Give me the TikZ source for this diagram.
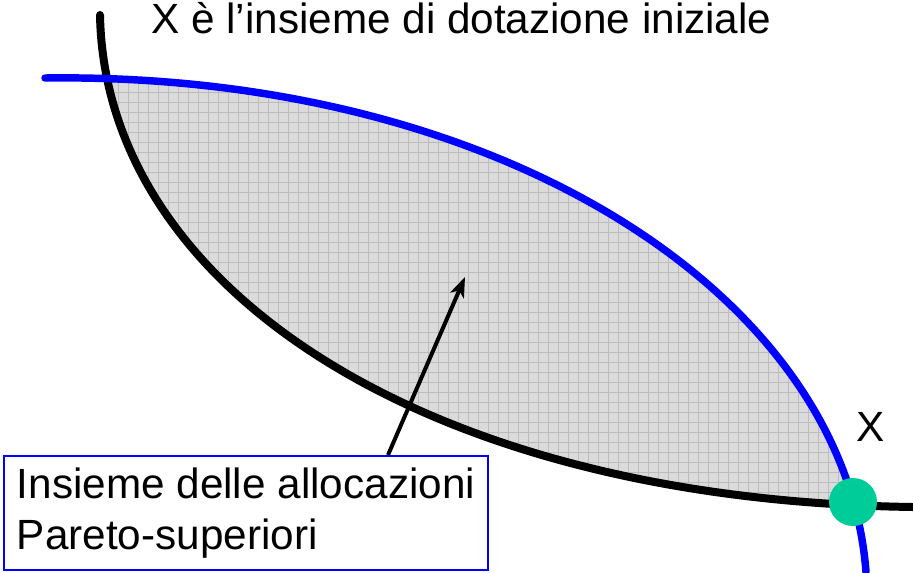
\documentclass[tikz,border=0pt]{standalone}
\usepackage{fontspec}
\setmainfont{Liberation Sans}
\usetikzlibrary{arrows.meta}
\begin{document}
\begin{tikzpicture}[x=0.75pt,y=-0.75pt]
\colorlet{frontier}{blue}
\definecolor{endowgreen}{RGB}{0,204,153}
\definecolor{setgray}{RGB}{219,219,219}
\definecolor{gridgray}{RGB}{188,188,188}
\tikzset{curve/.style={line width=5.6pt,line cap=round},
         lbl/.style={inner sep=0pt,font=\fontsize{31.7}{38.3}\selectfont},
         pointer/.style={line width=3pt,-{Stealth[length=15pt,width=11pt,inset=4pt]}}}
\useasboundingbox (0,0) rectangle (913,572);

% the shaded lens between the two curves
\begin{scope}
\clip (100,15) .. controls (105,285) and (420,500) .. (913,507) -- (913,0) -- (100,0) -- cycle;
\clip (45,78) .. controls (500,72) and (845,295) .. (866,572) -- (45,572) -- cycle;
\fill[setgray] (100,70) rectangle (870,515);
\foreach \x in {98,108,...,868} \draw[gridgray,line width=0.55pt] (\x,70) -- (\x,515);
\foreach \y in {72,82,...,512} \draw[gridgray,line width=0.55pt] (100,\y) -- (870,\y);
\end{scope}

% the two curves through the endowment
\draw[curve,black,line width=6pt] (100,15) .. controls (105,285) and (420,500) .. (913,507);
\draw[curve,frontier] (45,78) .. controls (500,72) and (845,295) .. (866,572);

\node[circle,fill=endowgreen,minimum size=36pt,inner sep=0pt] (endow) at (853,502) {};
\node[lbl,anchor=base west] (xlab) at (856,441) {X};
\node[lbl,anchor=base west] (title) at (151,33) {X è l’insieme di dotazione iniziale};

% label box and its pointer
\node[lbl,draw=blue,line width=1.5pt,fill=white,anchor=north west,minimum width=363pt,minimum height=85.5pt,align=left] (label) at (3,455)
    {Insieme delle allocazioni\\Pareto-superiori};
\coordinate (tip) at (465,277);
\draw[pointer] ([xshift=106.5pt]label.north) -- (tip);
\end{tikzpicture}
\end{document}
